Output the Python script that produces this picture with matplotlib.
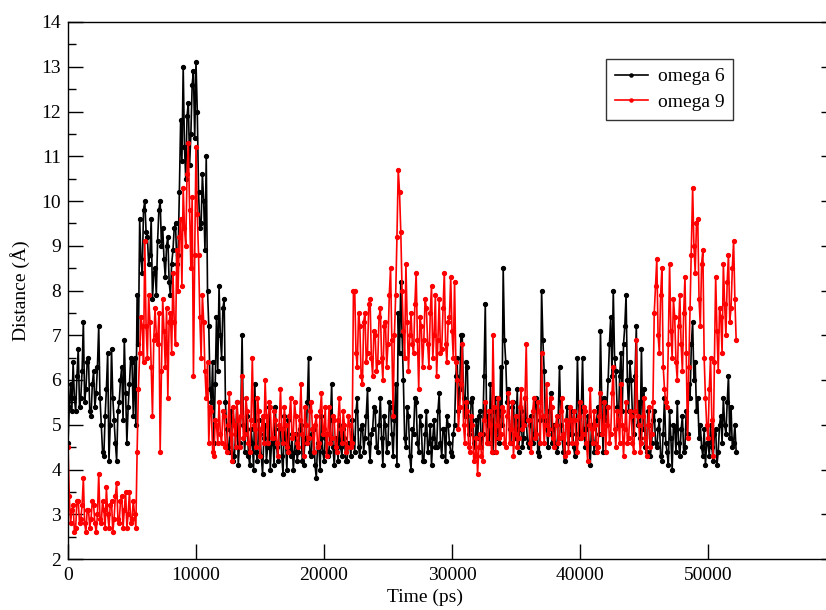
import matplotlib
matplotlib.use("Agg")
import numpy as np
import matplotlib.pyplot as plt
from matplotlib.ticker import MultipleLocator

# time axis, one sample every 100 ps
time_ps = np.arange(0, 52201, 100)

omega6 = [
    4.6, 5.4, 5.9, 5.3, 6.4, 5.6, 5.3, 6.1, 6.7, 5.4, 5.6, 6.2, 7.3, 5.5, 5.8, 6.4, 6.5, 5.3, 5.2, 5.9,
    6.2, 5.4, 5.7, 6.3, 7.2, 5.6, 5.0, 4.4, 4.3, 5.2, 5.8, 6.6, 4.2, 5.0, 6.7, 5.6, 5.1, 4.6, 4.2, 5.3,
    5.5, 6.0, 6.3, 5.1, 6.9, 5.7, 4.6, 5.4, 5.9, 6.5, 6.4, 5.2, 6.5, 5.0, 7.9, 6.8, 9.6, 8.7, 8.4, 9.8,
    10.0, 9.3, 9.2, 8.6, 8.8, 9.6, 7.8, 8.4, 8.5, 7.9, 9.1, 9.8, 10.0, 9.0, 9.4, 8.7, 8.3, 9.0, 9.2, 8.2,
    7.9, 8.6, 8.9, 9.4, 9.5, 8.6, 8.8, 10.2, 11.8, 10.9, 13.0, 11.2, 10.5, 11.9, 12.2, 10.8, 11.5, 12.6, 12.9, 11.4,
    13.1, 12.0, 10.2, 9.4, 9.5, 10.6, 10.0, 8.9, 11.0, 8.0, 7.2, 5.8, 5.5, 6.4, 4.6, 5.9, 7.4, 6.2, 8.1, 7.0,
    6.5, 7.6, 7.8, 5.5, 4.9, 4.5, 4.4, 5.3, 5.1, 4.2, 4.3, 4.8, 5.5, 4.1, 4.6, 5.2, 7.0, 5.0, 4.4, 4.9,
    5.2, 4.3, 4.1, 4.9, 4.6, 4.0, 5.9, 4.4, 4.2, 5.1, 4.8, 4.3, 3.9, 4.7, 5.0, 4.2, 4.5, 5.4, 4.0, 4.6,
    4.7, 4.1, 5.4, 4.5, 4.2, 4.9, 4.9, 4.3, 3.9, 5.2, 4.6, 4.0, 5.1, 4.5, 4.3, 4.8, 4.0, 4.4, 4.8, 4.2,
    4.4, 4.9, 5.0, 4.2, 4.1, 4.6, 4.7, 5.5, 6.5, 4.4, 4.3, 4.8, 4.9, 4.1, 3.8, 4.6, 4.5, 4.0, 5.2, 4.4,
    4.2, 4.7, 4.8, 4.3, 4.4, 5.1, 5.9, 4.5, 4.1, 4.7, 4.6, 4.2, 5.0, 4.5, 4.3, 4.9, 4.7, 4.2, 4.2, 4.6,
    4.6, 4.3, 5.1, 4.7, 4.4, 5.3, 5.6, 4.5, 4.3, 4.9, 5.0, 4.4, 4.7, 5.2, 5.8, 4.6, 4.2, 4.8, 4.9, 5.4,
    5.3, 4.5, 4.4, 5.0, 5.6, 4.7, 4.1, 5.2, 5.0, 4.4, 4.6, 5.5, 5.4, 4.8, 4.3, 5.1, 5.9, 4.1, 7.5, 6.6,
    8.2, 7.0, 6.0, 4.7, 4.5, 5.4, 5.2, 4.3, 4.0, 4.9, 4.8, 5.6, 5.5, 4.6, 4.4, 5.2, 5.0, 4.2, 4.2, 4.8,
    5.3, 4.4, 4.6, 5.0, 4.1, 4.7, 5.1, 4.5, 4.5, 5.3, 5.7, 4.6, 4.3, 4.9, 4.9, 4.2, 5.2, 5.0, 4.6, 4.4,
    4.3, 4.8, 5.0, 6.1, 6.5, 5.3, 5.8, 7.0, 7.0, 5.6, 5.2, 6.4, 6.3, 4.8, 4.9, 5.5, 5.6, 4.6, 4.5, 5.1,
    4.7, 5.2, 5.3, 4.5, 4.8, 6.1, 7.7, 5.2, 5.0, 4.6, 5.9, 5.1, 4.4, 5.3, 5.6, 4.7, 5.2, 4.6, 6.3, 5.0,
    8.5, 6.9, 6.4, 5.5, 5.8, 4.9, 4.6, 5.4, 5.5, 4.7, 4.9, 5.8, 4.4, 4.9, 5.3, 4.5, 4.7, 5.6, 5.1, 4.6,
    4.5, 5.0, 5.2, 4.6, 4.8, 5.5, 5.6, 4.4, 4.3, 5.1, 8.0, 6.9, 6.2, 5.1, 4.9, 4.5, 5.3, 5.7, 4.6, 4.9,
    5.0, 4.5, 4.4, 5.2, 6.3, 5.0, 4.7, 4.4, 4.2, 5.1, 5.4, 4.6, 4.8, 5.3, 5.1, 4.5, 4.3, 4.8, 6.5, 5.2,
    4.7, 5.3, 6.5, 4.9, 4.5, 4.9, 5.2, 4.6, 4.1, 5.0, 5.0, 4.4, 4.6, 5.1, 5.4, 4.8, 7.1, 5.5, 4.4, 5.6,
    5.1, 5.4, 6.0, 6.8, 7.4, 6.1, 8.0, 6.5, 6.2, 5.4, 5.0, 6.1, 6.6, 5.3, 6.8, 7.2, 7.9, 6.0, 5.3, 6.4,
    6.0, 5.2, 4.8, 6.1, 7.2, 5.0, 5.5, 4.7, 6.7, 4.9, 5.8, 4.5, 4.4, 5.3, 5.0, 4.3, 4.6, 5.1, 5.3, 4.6,
    4.5, 4.9, 5.1, 4.3, 4.2, 4.8, 5.6, 4.6, 4.4, 4.1, 5.3, 4.7, 4.0, 5.0, 4.9, 4.4, 5.5, 4.6, 4.3, 4.9,
    5.2, 4.4, 4.5, 5.3, 4.8, 5.9, 5.6, 6.8, 7.3, 6.0, 6.4, 5.3, 5.6, 4.7, 5.0, 4.5, 4.3, 4.9, 4.1, 4.6,
    4.6, 4.3, 5.0, 4.5, 4.2, 4.8, 4.9, 4.1, 4.4, 5.0, 5.2, 4.6, 5.6, 5.0, 4.8, 5.5, 6.1, 4.7, 5.4, 4.5,
    4.6, 5.0, 4.4,
]

omega9 = [
    4.5, 3.4, 2.8, 3.1, 3.2, 2.6, 2.7, 3.3, 3.3, 2.8, 2.9, 3.2, 3.8, 2.8, 2.6, 3.1, 3.1, 2.7, 2.9, 3.3,
    3.2, 2.8, 2.6, 3.0, 3.9, 2.9, 2.8, 3.3, 3.1, 2.7, 3.6, 3.0, 2.7, 3.2, 3.3, 2.6, 2.9, 3.4, 3.7, 2.9,
    2.8, 3.3, 3.4, 2.7, 3.1, 3.5, 2.7, 3.0, 3.5, 2.8, 2.9, 3.3, 3.0, 2.7, 4.4, 5.8, 6.6, 7.4, 7.2, 6.4,
    9.1, 7.2, 6.5, 7.9, 7.3, 6.3, 5.2, 6.9, 7.6, 7.0, 6.8, 7.5, 4.4, 6.2, 7.8, 7.1, 6.3, 7.6, 5.6, 7.3,
    7.5, 6.6, 8.4, 7.3, 6.8, 8.9, 8.0, 9.2, 9.6, 8.1, 10.3, 9.4, 9.0, 10.6, 11.3, 9.8, 8.5, 10.1, 6.1, 8.8,
    11.2, 9.7, 8.8, 7.4, 6.5, 7.9, 7.3, 6.2, 5.6, 6.4, 4.6, 5.4, 5.3, 4.4, 4.3, 5.1, 5.0, 4.6, 5.5, 4.8,
    4.6, 5.3, 5.2, 4.5, 4.4, 5.0, 5.7, 4.8, 4.2, 5.4, 5.0, 4.5, 5.5, 5.1, 4.5, 5.2, 6.1, 4.7, 4.8, 5.6,
    5.3, 4.6, 4.4, 5.1, 6.5, 5.0, 4.9, 4.5, 5.6, 5.3, 4.3, 4.9, 5.2, 4.6, 6.0, 5.2, 4.6, 5.5, 5.4, 4.7,
    4.7, 5.3, 5.1, 4.6, 4.3, 5.0, 5.8, 4.9, 4.6, 5.4, 5.0, 4.5, 4.4, 5.2, 5.6, 4.7, 4.8, 5.5, 5.2, 4.6,
    4.5, 5.1, 5.9, 4.8, 4.3, 5.4, 5.0, 4.6, 4.7, 5.3, 5.5, 4.9, 4.4, 5.0, 5.2, 4.5, 4.6, 5.3, 5.7, 4.8,
    4.9, 5.4, 4.3, 4.8, 5.4, 4.6, 4.7, 5.2, 5.1, 4.5, 4.4, 5.1, 5.6, 4.9, 4.6, 5.3, 5.0, 4.4, 4.5, 5.2,
    5.0, 4.5, 4.6, 8.0, 8.0, 6.6, 6.3, 7.5, 7.2, 6.1, 5.9, 7.3, 7.5, 6.4, 6.6, 7.7, 7.8, 6.5, 6.1, 7.1,
    7.0, 6.2, 6.4, 7.4, 7.6, 6.5, 6.0, 7.2, 7.3, 6.3, 6.8, 7.9, 8.5, 6.9, 5.2, 7.0, 7.9, 9.2, 10.7, 10.2,
    9.3, 8.0, 7.1, 6.5, 8.6, 7.3, 6.2, 7.0, 7.5, 6.8, 6.6, 7.7, 8.4, 6.9, 5.8, 7.4, 7.2, 6.3, 6.9, 7.8,
    7.6, 6.8, 6.3, 7.5, 8.1, 6.5, 7.0, 7.9, 6.1, 6.9, 7.8, 6.6, 6.7, 7.6, 8.4, 6.8, 6.4, 7.3, 7.4, 8.3,
    7.1, 6.5, 8.2, 6.4, 6.0, 4.9, 5.4, 5.9, 6.8, 5.0, 4.6, 5.5, 5.3, 4.5, 4.4, 5.2, 5.0, 4.2, 4.3, 4.7,
    3.9, 4.5, 4.8, 4.3, 4.2, 5.1, 5.5, 4.6, 4.6, 5.3, 5.0, 4.4, 7.0, 5.4, 4.4, 5.0, 5.6, 4.7, 4.8, 5.4,
    5.3, 4.6, 4.5, 5.2, 5.7, 4.6, 4.9, 5.5, 4.3, 4.8, 5.2, 4.5, 4.7, 5.4, 5.8, 4.9, 5.0, 5.6, 6.8, 5.1,
    5.1, 4.6, 4.4, 5.3, 5.6, 4.7, 4.8, 5.5, 5.3, 4.6, 6.6, 5.2, 4.6, 5.0, 5.9, 4.8, 4.9, 5.6, 5.4, 4.7,
    4.5, 5.0, 5.2, 4.6, 4.7, 5.3, 5.6, 4.8, 4.3, 5.1, 5.0, 4.4, 5.4, 5.1, 4.6, 5.3, 5.1, 4.6, 4.4, 5.2,
    5.5, 4.7, 4.8, 5.4, 5.3, 4.6, 4.2, 5.0, 5.8, 4.9, 4.6, 5.3, 5.0, 4.4, 4.5, 5.2, 5.7, 4.8, 4.9, 5.5,
    4.4, 5.0, 5.4, 4.6, 4.8, 5.7, 6.3, 4.9, 4.5, 5.3, 5.1, 4.6, 5.9, 5.0, 4.3, 4.9, 5.5, 4.6, 4.7, 5.3,
    5.2, 4.6, 4.4, 5.3, 6.9, 5.2, 5.0, 4.4, 4.6, 5.2, 5.6, 4.7, 4.3, 5.0, 5.4, 4.5, 4.8, 5.5, 7.5, 8.1,
    8.7, 7.0, 6.6, 7.9, 8.5, 6.3, 5.8, 5.5, 5.4, 6.8, 8.6, 7.1, 6.5, 7.8, 7.4, 6.4, 6.0, 7.2, 7.9, 6.8,
    6.2, 7.5, 8.3, 6.6, 4.7, 6.3, 7.6, 8.8, 10.3, 9.0, 8.4, 9.5, 9.6, 7.8, 7.2, 8.6, 8.9, 6.5, 5.6, 5.0,
    4.7, 5.8, 6.5, 5.1, 4.3, 6.4, 8.3, 7.1, 6.2, 7.6, 7.4, 6.6, 8.6, 7.7, 7.0, 8.2, 8.8, 7.3, 7.6, 8.5,
    9.1, 7.8, 6.9,
]

plt.rcParams['font.family'] = ['Liberation Serif', 'DejaVu Serif']

fig = plt.figure(figsize=(8.26, 6.10), dpi=100)
# right edge of the frame falls outside the picture, as in the original
ax = fig.add_axes([68 / 826, 51 / 610, 768 / 826, 537 / 610])

ax.plot(time_ps, omega6, color='black', lw=1.2, marker='o', ms=2.8,
        label='omega 6')
ax.plot(time_ps, omega9, color='red', lw=1.2, marker='o', ms=2.8,
        label='omega 9')

ax.set_xlim(0, 60000)
ax.set_ylim(2, 14)
ax.set_xticks(range(0, 50001, 10000))
ax.yaxis.set_major_locator(MultipleLocator(1))
ax.yaxis.set_minor_locator(MultipleLocator(0.5))

ax.tick_params(axis='both', which='both', direction='in', labelsize=14)
ax.tick_params(axis='x', which='major', length=11, width=1, pad=6,
               top=False, bottom=True)
ax.tick_params(axis='y', which='major', length=11, width=1, pad=5,
               left=True, right=True)
ax.tick_params(axis='y', which='minor', length=6, width=1,
               left=True, right=False)

for sp in ax.spines.values():
    sp.set_linewidth(1.0)

ax.set_xlabel('Time (ps)', fontsize=14)
ax.set_ylabel('Distance (Å)', fontsize=14)
ax.xaxis.set_label_coords(0.465, -0.056)
ax.yaxis.set_label_coords(-0.049, 0.5)

leg = ax.legend(loc='upper left', bbox_to_anchor=(538 / 768, 1 - 37 / 537),
                borderaxespad=0, fontsize=14, frameon=True, fancybox=False,
                edgecolor='black', handlelength=1.7, handletextpad=0.5,
                borderpad=0.45, labelspacing=0.4, markerscale=0.8)
leg.get_frame().set_linewidth(1.0)

fig.savefig('out.png', dpi=100)
